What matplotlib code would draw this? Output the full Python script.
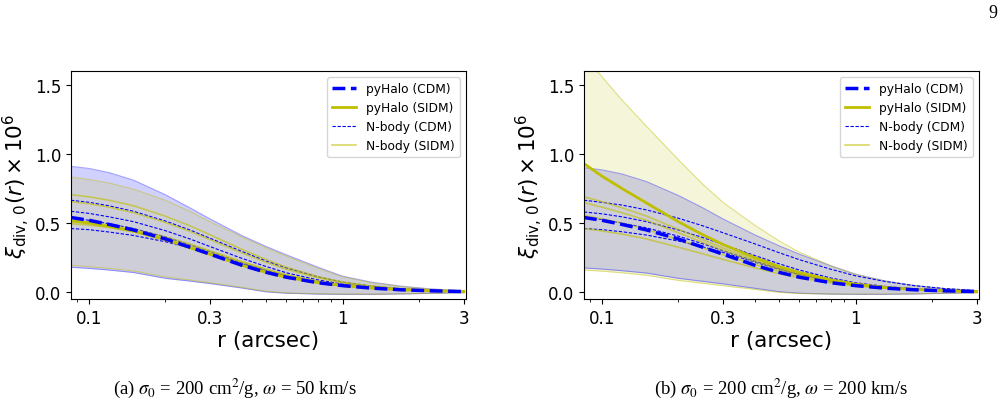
import matplotlib.pyplot as plt
import numpy as np
from matplotlib.ticker import FixedLocator, FixedFormatter, NullFormatter

plt.rcParams['mathtext.fontset'] = 'dejavusans'

# radius grid (arcsec)
r = np.array([0.085, 0.1, 0.12, 0.15, 0.2, 0.25, 0.3, 0.4, 0.5, 0.6, 0.8, 1.0, 1.3, 1.7, 2.2, 3.0])

# ---- panel (a): omega = 50 km/s ----
a_cdm_med = [0.54, 0.52, 0.49, 0.45, 0.385, 0.325, 0.275, 0.195, 0.143, 0.108, 0.068, 0.047, 0.029, 0.017, 0.010, 0.004]
a_cdm_hi = [0.91, 0.895, 0.865, 0.81, 0.705, 0.61, 0.53, 0.41, 0.33, 0.27, 0.18, 0.115, 0.072, 0.043, 0.024, 0.009]
a_cdm_lo = [0.18, 0.172, 0.16, 0.142, 0.10, 0.08, 0.062, 0.03, 0.002, -0.008, -0.014, -0.016, -0.016, -0.013, -0.009, -0.004]
a_sidm_med = [0.515, 0.50, 0.475, 0.44, 0.38, 0.322, 0.273, 0.195, 0.143, 0.108, 0.068, 0.047, 0.029, 0.017, 0.010, 0.004]
a_sidm_hi = [0.833, 0.815, 0.79, 0.745, 0.665, 0.585, 0.51, 0.40, 0.32, 0.26, 0.172, 0.11, 0.068, 0.04, 0.022, 0.008]
a_sidm_lo = [0.193, 0.185, 0.172, 0.153, 0.11, 0.088, 0.068, 0.035, 0.006, -0.005, -0.012, -0.014, -0.014, -0.012, -0.008, -0.004]
a_nb_cdm = [
    [0.665, 0.65, 0.625, 0.585, 0.515, 0.45, 0.39, 0.295, 0.225, 0.175, 0.11, 0.072, 0.043, 0.024, 0.013, 0.005],
    [0.585, 0.57, 0.545, 0.51, 0.445, 0.385, 0.33, 0.245, 0.185, 0.14, 0.088, 0.058, 0.035, 0.02, 0.011, 0.004],
    [0.535, 0.52, 0.495, 0.46, 0.40, 0.342, 0.292, 0.212, 0.158, 0.12, 0.075, 0.05, 0.03, 0.017, 0.01, 0.004],
    [0.46, 0.452, 0.435, 0.41, 0.365, 0.32, 0.278, 0.205, 0.153, 0.116, 0.072, 0.048, 0.029, 0.017, 0.01, 0.004],
]
a_nb_sidm = [
    [0.705, 0.69, 0.665, 0.625, 0.55, 0.48, 0.415, 0.31, 0.235, 0.18, 0.112, 0.073, 0.044, 0.025, 0.014, 0.005],
    [0.655, 0.64, 0.615, 0.575, 0.505, 0.44, 0.38, 0.285, 0.215, 0.165, 0.103, 0.068, 0.041, 0.023, 0.013, 0.005],
    [0.515, 0.505, 0.485, 0.455, 0.40, 0.348, 0.30, 0.222, 0.166, 0.126, 0.079, 0.052, 0.031, 0.018, 0.01, 0.004],
    [0.495, 0.485, 0.468, 0.44, 0.388, 0.338, 0.292, 0.216, 0.161, 0.122, 0.076, 0.05, 0.03, 0.017, 0.01, 0.004],
]

# ---- panel (b): omega = 200 km/s ----
b_cdm_med = [0.54, 0.52, 0.49, 0.45, 0.385, 0.325, 0.275, 0.195, 0.143, 0.108, 0.068, 0.047, 0.029, 0.017, 0.010, 0.004]
b_cdm_hi = [0.90, 0.885, 0.855, 0.80, 0.70, 0.61, 0.53, 0.415, 0.335, 0.275, 0.19, 0.13, 0.082, 0.048, 0.027, 0.01]
b_cdm_lo = [0.175, 0.167, 0.155, 0.138, 0.10, 0.078, 0.06, 0.028, 0.003, -0.008, -0.014, -0.016, -0.016, -0.013, -0.009, -0.004]
b_sidm_med = [0.93, 0.84, 0.75, 0.645, 0.51, 0.415, 0.345, 0.25, 0.185, 0.142, 0.088, 0.058, 0.035, 0.02, 0.011, 0.004]
b_sidm_hi = [1.71, 1.56, 1.39, 1.20, 0.96, 0.78, 0.65, 0.485, 0.37, 0.29, 0.19, 0.128, 0.08, 0.046, 0.026, 0.009]
b_sidm_lo = [0.16, 0.152, 0.14, 0.122, 0.085, 0.064, 0.047, 0.02, -0.002, -0.01, -0.013, -0.014, -0.014, -0.012, -0.008, -0.004]
b_nb_cdm = [
    [0.665, 0.65, 0.63, 0.595, 0.535, 0.48, 0.43, 0.35, 0.285, 0.235, 0.165, 0.118, 0.078, 0.047, 0.027, 0.011],
    [0.58, 0.567, 0.545, 0.51, 0.45, 0.395, 0.345, 0.265, 0.205, 0.16, 0.102, 0.068, 0.042, 0.024, 0.014, 0.005],
    [0.54, 0.525, 0.50, 0.465, 0.405, 0.35, 0.30, 0.225, 0.17, 0.13, 0.082, 0.055, 0.033, 0.019, 0.011, 0.004],
    [0.46, 0.452, 0.437, 0.413, 0.37, 0.327, 0.288, 0.218, 0.165, 0.127, 0.08, 0.053, 0.032, 0.019, 0.011, 0.004],
]
b_nb_sidm = [
    [0.69, 0.655, 0.61, 0.55, 0.455, 0.38, 0.32, 0.235, 0.175, 0.134, 0.084, 0.056, 0.034, 0.019, 0.011, 0.004],
    [0.648, 0.615, 0.575, 0.52, 0.43, 0.36, 0.303, 0.222, 0.166, 0.127, 0.08, 0.053, 0.032, 0.018, 0.01, 0.004],
    [0.555, 0.53, 0.50, 0.455, 0.38, 0.32, 0.272, 0.2, 0.15, 0.115, 0.073, 0.049, 0.03, 0.017, 0.01, 0.004],
    [0.46, 0.443, 0.42, 0.385, 0.325, 0.277, 0.237, 0.176, 0.133, 0.103, 0.066, 0.045, 0.028, 0.016, 0.009, 0.004],
]

panels = [
    (a_cdm_med, a_cdm_lo, a_cdm_hi, a_sidm_med, a_sidm_lo, a_sidm_hi, a_nb_cdm, a_nb_sidm),
    (b_cdm_med, b_cdm_lo, b_cdm_hi, b_sidm_med, b_sidm_lo, b_sidm_hi, b_nb_cdm, b_nb_sidm),
]
captions = [r'(a) $\sigma_0$ = 200 cm$^2$/g, $\omega$ = 50 km/s',
            r'(b) $\sigma_0$ = 200 cm$^2$/g, $\omega$ = 200 km/s']
caption_x = [0.2335, 0.777]
left_pos = [0.0706, 0.581]

fig = plt.figure(figsize=(10.05, 4.06), dpi=100)

for i, (cm, cl, ch, sm, sl, sh, nbc, nbs) in enumerate(panels):
    ax = fig.add_axes([left_pos[i], 0.261, 0.393, 0.5616])

    # pyHalo 16-84% bands
    ax.fill_between(r, cl, ch, color='blue', alpha=0.18, lw=0)
    ax.plot(r, ch, color='blue', alpha=0.35, lw=0.8)
    ax.plot(r, cl, color='blue', alpha=0.35, lw=0.8)
    ax.fill_between(r, sl, sh, color='y', alpha=0.15, lw=0)
    ax.plot(r, sh, color='y', alpha=0.45, lw=0.8)
    ax.plot(r, sl, color='y', alpha=0.45, lw=0.8)

    # N-body halos
    for k, line in enumerate(nbc):
        ax.plot(r, line, color='blue', ls='--', lw=0.8, dashes=(3, 1.5),
                label='N-body (CDM)' if k == 0 else None)
    for k, line in enumerate(nbs):
        ax.plot(r, line, color='y', alpha=0.6, lw=1.2,
                label='N-body (SIDM)' if k == 0 else None)

    # pyHalo medians
    ax.plot(r, sm, color='y', lw=2, label='pyHalo (SIDM)')
    ax.plot(r, cm, color='blue', ls='--', lw=2.5, label='pyHalo (CDM)')

    ax.set_xscale('log')
    ax.set_xlim(0.085, 3.06)
    ax.set_ylim(-0.05, 1.6)
    ax.xaxis.set_major_locator(FixedLocator([0.1, 0.3, 1, 3]))
    ax.xaxis.set_major_formatter(FixedFormatter(['0.1', '0.3', '1', '3']))
    ax.xaxis.set_minor_formatter(NullFormatter())
    ax.set_yticks([0.0, 0.5, 1.0, 1.5])
    ax.tick_params(axis='both', labelsize=12)
    ax.set_xlabel('r (arcsec)', fontsize=15.5, labelpad=2)
    ax.set_ylabel(r'$\xi_{\rm div,\,0}(r)\times10^6$', fontsize=15.5, labelpad=2)

    h, l = ax.get_legend_handles_labels()
    order = [l.index('pyHalo (CDM)'), l.index('pyHalo (SIDM)'),
             l.index('N-body (CDM)'), l.index('N-body (SIDM)')]
    ax.legend([h[j] for j in order], [l[j] for j in order], loc='upper right', fontsize=8.8)

    fig.text(caption_x[i], 0.043, captions[i], ha='center', va='center',
             fontsize=13.5, family='Liberation Serif', math_fontfamily='stix')

fig.text(0.988, 0.966, '9', ha='center', va='center', fontsize=13, family='Liberation Serif')

plt.savefig('out.png', dpi=100)
